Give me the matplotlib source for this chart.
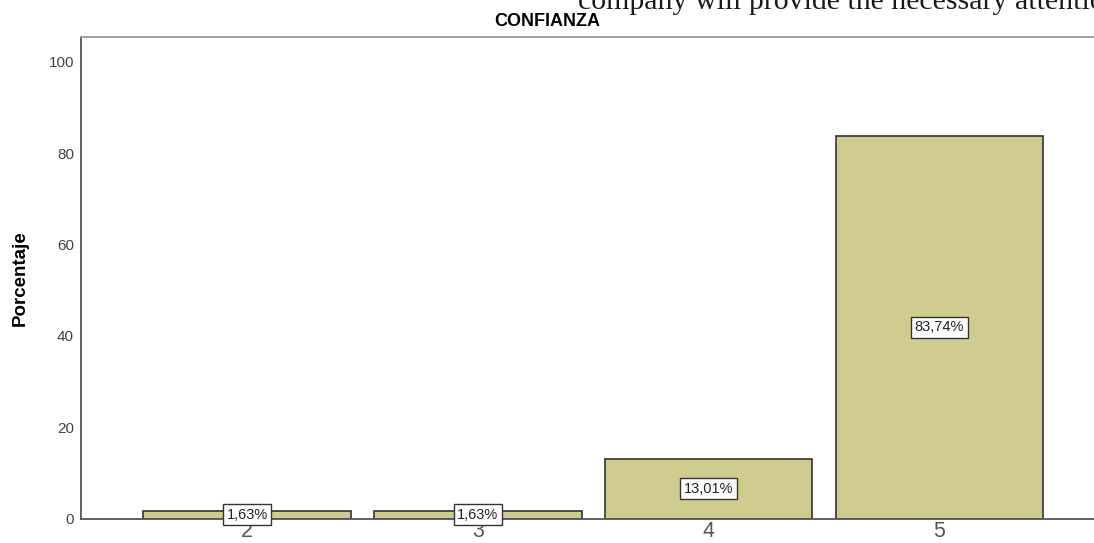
import matplotlib
matplotlib.use("Agg")
import matplotlib.pyplot as plt

categories = ["2", "3", "4", "5"]
percentages = [1.63, 1.63, 13.01, 83.74]
labels = ["1,63%", "1,63%", "13,01%", "83,74%"]
yticks = [0, 20, 40, 60, 80, 100]

W, H = 1094, 543
fig = plt.figure(figsize=(W / 100, H / 100), dpi=100)
ax = fig.add_axes([81 / W, (H - 518.5) / H, 1 - 81 / W, (518.5 - 37) / H])

x = list(range(len(categories)))
ax.bar(x, percentages, width=0.9, color="#D0CB8F", edgecolor="#333333", linewidth=1.2)
for xi, v, lab in zip(x, percentages, labels):
    ax.text(xi, v / 2 if v > 5 else 0.8, lab, ha="center", va="center", fontsize=10.5,
            family="Liberation Sans", color="#222222",
            bbox=dict(boxstyle="square,pad=0.25", facecolor="white", edgecolor="#333333", linewidth=1))

ax.set_xlim(-0.72, 3.67)
ax.set_ylim(0, 105.4)
ax.set_xticks(x)
ax.set_xticklabels(categories, fontsize=15.5, color="#555555", family="Liberation Sans")
ax.set_yticks(yticks)
ax.set_yticklabels([str(t) for t in yticks], fontsize=11, color="#444444", family="Liberation Sans")
ax.tick_params(axis="both", length=0)
ax.tick_params(axis="x", pad=2)
ax.tick_params(axis="y", pad=5)

for s in ["left", "bottom"]:
    ax.spines[s].set_color("#555555")
    ax.spines[s].set_linewidth(1.3)
ax.spines["top"].set_color("#999999")
ax.spines["top"].set_linewidth(1.3)
ax.spines["right"].set_visible(False)

ax.set_ylabel("Porcentaje", fontsize=13.5, fontweight="bold", family="Liberation Sans", labelpad=14)
fig.text(547 / W, 1 - 21 / H, "CONFIANZA", ha="center", va="center", fontsize=13,
         fontweight="bold", family="Liberation Sans")
fig.text(578 / W, 1 - 9 / H, "company will provide the necessary attention", ha="left",
         va="baseline", fontsize=21.5, family="Liberation Serif", color="#1a1a1a")

fig.savefig("out.png", dpi=100)
